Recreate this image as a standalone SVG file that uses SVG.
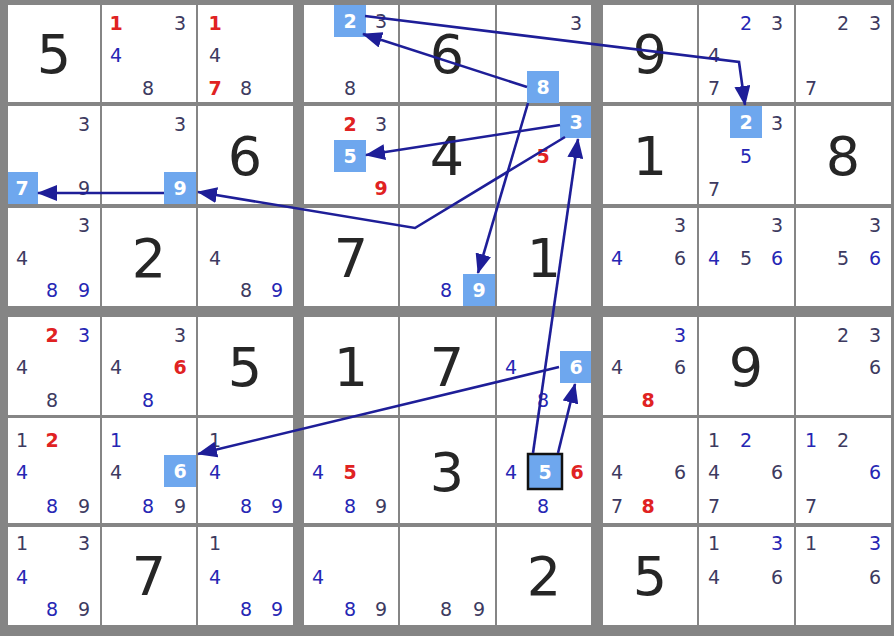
<svg xmlns="http://www.w3.org/2000/svg" width="894" height="636" viewBox="0 0 894 636">
<style>
text{font-family:"DejaVu Sans","Liberation Sans",sans-serif;text-anchor:middle;dominant-baseline:central}
.cell{fill:#ffffff}
.big{font-size:54px;fill:#262626}
.c{font-size:19px;fill:#3d3a60}
.b{font-size:19px;fill:#2626b4}
.r{font-size:19px;fill:#e02222;font-weight:bold}
.hb{fill:#6ea7ee}
.hw{font-size:19px;fill:#ffffff;font-weight:bold}
.sel{fill:#6ea7ee;stroke:#111111;stroke-width:2.5}
.arr{fill:none;stroke:#1e1e98;stroke-width:2.6;marker-end:url(#ah)}
</style>
<defs>
<marker id="ah" markerUnits="userSpaceOnUse" markerWidth="20" markerHeight="16" refX="19" refY="8" orient="auto">
<path d="M0,0 L20,8 L0,16 z" fill="#1e1e98"/>
</marker>
</defs>
<rect x="0" y="0" width="894" height="636" fill="#858585"/>
<g id="grid">
<rect class="cell" x="8" y="5" width="92" height="97"/><rect class="cell" x="102" y="5" width="94" height="97"/><rect class="cell" x="198" y="5" width="95" height="97"/>
<rect class="cell" x="304" y="5" width="94" height="97"/><rect class="cell" x="400" y="5" width="95" height="97"/><rect class="cell" x="497" y="5" width="94" height="97"/>
<rect class="cell" x="603" y="5" width="94" height="97"/><rect class="cell" x="699" y="5" width="95" height="97"/><rect class="cell" x="796" y="5" width="95" height="97"/>
<rect class="cell" x="8" y="106" width="92" height="98"/><rect class="cell" x="102" y="106" width="94" height="98"/><rect class="cell" x="198" y="106" width="95" height="98"/>
<rect class="cell" x="304" y="106" width="94" height="98"/><rect class="cell" x="400" y="106" width="95" height="98"/><rect class="cell" x="497" y="106" width="94" height="98"/>
<rect class="cell" x="603" y="106" width="94" height="98"/><rect class="cell" x="699" y="106" width="95" height="98"/><rect class="cell" x="796" y="106" width="95" height="98"/>
<rect class="cell" x="8" y="208" width="92" height="98"/><rect class="cell" x="102" y="208" width="94" height="98"/><rect class="cell" x="198" y="208" width="95" height="98"/>
<rect class="cell" x="304" y="208" width="94" height="98"/><rect class="cell" x="400" y="208" width="95" height="98"/><rect class="cell" x="497" y="208" width="94" height="98"/>
<rect class="cell" x="603" y="208" width="94" height="98"/><rect class="cell" x="699" y="208" width="95" height="98"/><rect class="cell" x="796" y="208" width="95" height="98"/>
<rect class="cell" x="8" y="317" width="92" height="98"/><rect class="cell" x="102" y="317" width="94" height="98"/><rect class="cell" x="198" y="317" width="95" height="98"/>
<rect class="cell" x="304" y="317" width="94" height="98"/><rect class="cell" x="400" y="317" width="95" height="98"/><rect class="cell" x="497" y="317" width="94" height="98"/>
<rect class="cell" x="603" y="317" width="94" height="98"/><rect class="cell" x="699" y="317" width="95" height="98"/><rect class="cell" x="796" y="317" width="95" height="98"/>
<rect class="cell" x="8" y="418" width="92" height="105"/><rect class="cell" x="102" y="418" width="94" height="105"/><rect class="cell" x="198" y="418" width="95" height="105"/>
<rect class="cell" x="304" y="418" width="94" height="105"/><rect class="cell" x="400" y="418" width="95" height="105"/><rect class="cell" x="497" y="418" width="94" height="105"/>
<rect class="cell" x="603" y="418" width="94" height="105"/><rect class="cell" x="699" y="418" width="95" height="105"/><rect class="cell" x="796" y="418" width="95" height="105"/>
<rect class="cell" x="8" y="527" width="92" height="98"/><rect class="cell" x="102" y="527" width="94" height="98"/><rect class="cell" x="198" y="527" width="95" height="98"/>
<rect class="cell" x="304" y="527" width="94" height="98"/><rect class="cell" x="400" y="527" width="95" height="98"/><rect class="cell" x="497" y="527" width="94" height="98"/>
<rect class="cell" x="603" y="527" width="94" height="98"/><rect class="cell" x="699" y="527" width="95" height="98"/><rect class="cell" x="796" y="527" width="95" height="98"/>
</g>
<g id="r1c1"><text class="big" x="54" y="54">5</text></g>
<g id="r1c2"><text class="r" x="116" y="23">1</text><text class="c" x="180" y="23">3</text><text class="b" x="116" y="55">4</text><text class="c" x="148" y="88">8</text></g>
<g id="r1c3"><text class="r" x="215" y="23">1</text><text class="c" x="215" y="55">4</text><text class="r" x="215" y="88">7</text><text class="c" x="246" y="88">8</text></g>
<g id="r1c4"><rect class="hb" x="334" y="5" width="32" height="32"/><text class="hw" x="350" y="21">2</text><text class="c" x="381" y="21">3</text><text class="c" x="350" y="88">8</text></g>
<g id="r1c5"><text class="big" x="447" y="54">6</text></g>
<g id="r1c6"><text class="c" x="576" y="23">3</text><rect class="hb" x="527" y="71" width="32" height="32"/><text class="hw" x="543" y="87">8</text></g>
<g id="r1c7"><text class="big" x="650" y="54">9</text></g>
<g id="r1c8"><text class="b" x="746" y="23">2</text><text class="c" x="777" y="23">3</text><text class="c" x="714" y="55">4</text><text class="c" x="714" y="88">7</text></g>
<g id="r1c9"><text class="c" x="843" y="23">2</text><text class="c" x="875" y="23">3</text><text class="c" x="811" y="88">7</text></g>
<g id="r2c1"><text class="c" x="84" y="124">3</text><rect class="hb" x="8" y="172" width="30" height="32"/><text class="hw" x="22" y="188">7</text><text class="c" x="84" y="188">9</text></g>
<g id="r2c2"><text class="c" x="180" y="124">3</text><rect class="hb" x="164" y="172" width="32" height="32"/><text class="hw" x="180" y="188">9</text></g>
<g id="r2c3"><text class="big" x="245" y="156">6</text></g>
<g id="r2c4"><text class="r" x="350" y="124">2</text><text class="c" x="381" y="124">3</text><rect class="hb" x="334" y="140" width="32" height="32"/><text class="hw" x="350" y="156">5</text><text class="r" x="381" y="188">9</text></g>
<g id="r2c5"><text class="big" x="447" y="156">4</text></g>
<g id="r2c6"><rect class="hb" x="560" y="106" width="31" height="32"/><text class="hw" x="576" y="122">3</text><text class="r" x="543" y="156">5</text></g>
<g id="r2c7"><text class="big" x="650" y="156">1</text></g>
<g id="r2c8"><rect class="hb" x="730" y="106" width="32" height="32"/><text class="hw" x="746" y="122">2</text><text class="c" x="777" y="123">3</text><text class="b" x="746" y="156">5</text><text class="c" x="714" y="189">7</text></g>
<g id="r2c9"><text class="big" x="843" y="156">8</text></g>
<g id="r3c1"><text class="c" x="84" y="225">3</text><text class="c" x="22" y="258">4</text><text class="b" x="52" y="290">8</text><text class="b" x="84" y="290">9</text></g>
<g id="r3c2"><text class="big" x="149" y="258">2</text></g>
<g id="r3c3"><text class="c" x="215" y="258">4</text><text class="c" x="246" y="290">8</text><text class="b" x="277" y="290">9</text></g>
<g id="r3c4"><text class="big" x="351" y="258">7</text></g>
<g id="r3c5"><text class="b" x="446" y="290">8</text><rect class="hb" x="463" y="274" width="32" height="32"/><text class="hw" x="479" y="290">9</text></g>
<g id="r3c6"><text class="big" x="544" y="258">1</text></g>
<g id="r3c7"><text class="c" x="680" y="225">3</text><text class="b" x="617" y="258">4</text><text class="c" x="680" y="258">6</text></g>
<g id="r3c8"><text class="c" x="777" y="225">3</text><text class="b" x="714" y="258">4</text><text class="c" x="746" y="258">5</text><text class="b" x="777" y="258">6</text></g>
<g id="r3c9"><text class="c" x="875" y="225">3</text><text class="c" x="843" y="258">5</text><text class="b" x="875" y="258">6</text></g>
<g id="r4c1"><text class="r" x="52" y="335">2</text><text class="b" x="84" y="335">3</text><text class="c" x="22" y="367">4</text><text class="c" x="52" y="400">8</text></g>
<g id="r4c2"><text class="c" x="180" y="335">3</text><text class="c" x="116" y="367">4</text><text class="r" x="180" y="367">6</text><text class="b" x="148" y="400">8</text></g>
<g id="r4c3"><text class="big" x="245" y="367">5</text></g>
<g id="r4c4"><text class="big" x="351" y="367">1</text></g>
<g id="r4c5"><text class="big" x="447" y="367">7</text></g>
<g id="r4c6"><text class="b" x="511" y="367">4</text><rect class="hb" x="560" y="351" width="31" height="32"/><text class="hw" x="576" y="367">6</text><text class="b" x="543" y="400">8</text></g>
<g id="r4c7"><text class="b" x="680" y="335">3</text><text class="c" x="617" y="367">4</text><text class="c" x="680" y="367">6</text><text class="r" x="648" y="400">8</text></g>
<g id="r4c8"><text class="big" x="746" y="367">9</text></g>
<g id="r4c9"><text class="c" x="843" y="335">2</text><text class="c" x="875" y="335">3</text><text class="c" x="875" y="367">6</text></g>
<g id="r5c1"><text class="c" x="22" y="440">1</text><text class="r" x="52" y="440">2</text><text class="b" x="22" y="472">4</text><text class="b" x="52" y="506">8</text><text class="c" x="84" y="506">9</text></g>
<g id="r5c2"><text class="b" x="116" y="440">1</text><text class="c" x="116" y="472">4</text><rect class="hb" x="164" y="455" width="32" height="32"/><text class="hw" x="180" y="471">6</text><text class="b" x="148" y="506">8</text><text class="c" x="180" y="506">9</text></g>
<g id="r5c3"><text class="c" x="215" y="440">1</text><text class="b" x="215" y="472">4</text><text class="b" x="246" y="506">8</text><text class="b" x="277" y="506">9</text></g>
<g id="r5c4"><text class="b" x="318" y="472">4</text><text class="r" x="350" y="472">5</text><text class="b" x="350" y="506">8</text><text class="c" x="381" y="506">9</text></g>
<g id="r5c5"><text class="big" x="447" y="472">3</text></g>
<g id="r5c6"><text class="b" x="511" y="472">4</text><rect class="sel" x="528" y="454" width="34" height="35"/><text class="hw" x="545" y="472">5</text><text class="r" x="577" y="472">6</text><text class="b" x="543" y="506">8</text></g>
<g id="r5c7"><text class="c" x="617" y="472">4</text><text class="c" x="680" y="472">6</text><text class="c" x="617" y="506">7</text><text class="r" x="648" y="506">8</text></g>
<g id="r5c8"><text class="c" x="714" y="440">1</text><text class="b" x="746" y="440">2</text><text class="c" x="714" y="472">4</text><text class="c" x="777" y="472">6</text><text class="c" x="714" y="506">7</text></g>
<g id="r5c9"><text class="b" x="811" y="440">1</text><text class="c" x="843" y="440">2</text><text class="b" x="875" y="472">6</text><text class="c" x="811" y="506">7</text></g>
<g id="r6c1"><text class="c" x="22" y="543">1</text><text class="c" x="84" y="543">3</text><text class="b" x="22" y="577">4</text><text class="b" x="52" y="609">8</text><text class="c" x="84" y="609">9</text></g>
<g id="r6c2"><text class="big" x="149" y="576">7</text></g>
<g id="r6c3"><text class="c" x="215" y="543">1</text><text class="b" x="215" y="577">4</text><text class="b" x="246" y="609">8</text><text class="b" x="277" y="609">9</text></g>
<g id="r6c4"><text class="b" x="318" y="577">4</text><text class="b" x="350" y="609">8</text><text class="c" x="381" y="609">9</text></g>
<g id="r6c5"><text class="c" x="446" y="609">8</text><text class="c" x="479" y="609">9</text></g>
<g id="r6c6"><text class="big" x="544" y="576">2</text></g>
<g id="r6c7"><text class="big" x="650" y="576">5</text></g>
<g id="r6c8"><text class="c" x="714" y="543">1</text><text class="b" x="777" y="543">3</text><text class="c" x="714" y="577">4</text><text class="c" x="777" y="577">6</text></g>
<g id="r6c9"><text class="c" x="811" y="543">1</text><text class="b" x="875" y="543">3</text><text class="c" x="875" y="577">6</text></g>
<g id="connectors">
<polyline class="arr" points="365,16 739,62 745,105"/>
<line class="arr" x1="527" y1="87" x2="363" y2="34"/>
<line class="arr" x1="528" y1="103" x2="478" y2="273"/>
<line class="arr" x1="560" y1="125" x2="366" y2="155"/>
<polyline class="arr" points="565,137 415,228 198,192"/>
<line class="arr" x1="164" y1="193" x2="38" y2="193"/>
<line class="arr" x1="533" y1="453" x2="578" y2="139"/>
<line class="arr" x1="558" y1="453" x2="575" y2="384"/>
<line class="arr" x1="559" y1="367" x2="198" y2="454"/>
</g>
</svg>
